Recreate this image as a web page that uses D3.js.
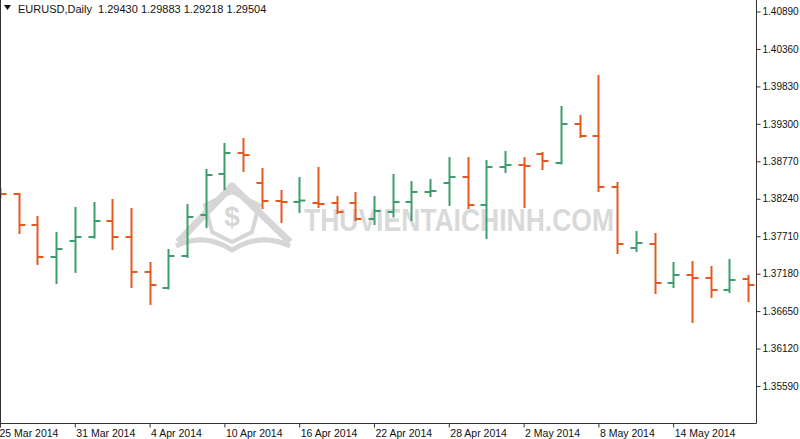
<!DOCTYPE html>
<html><head><meta charset="utf-8">
<script src="https://cdn.jsdelivr.net/npm/d3@7"></script>
<style>
html,body{margin:0;padding:0;background:#fff;}
svg{display:block;font-family:"Liberation Sans",Arial,sans-serif;}
</style></head>
<body>
<svg id="chart" width="800" height="439"></svg>
<script>
const dates = ["2014-03-25","2014-03-26","2014-03-27","2014-03-28","2014-03-31",
"2014-04-01","2014-04-02","2014-04-03","2014-04-04","2014-04-07","2014-04-08","2014-04-09","2014-04-10","2014-04-11",
"2014-04-14","2014-04-15","2014-04-16","2014-04-17","2014-04-18","2014-04-21","2014-04-22","2014-04-23","2014-04-24","2014-04-25",
"2014-04-28","2014-04-29","2014-04-30","2014-05-01","2014-05-02","2014-05-05","2014-05-06","2014-05-07","2014-05-08","2014-05-09",
"2014-05-12","2014-05-13","2014-05-14","2014-05-15","2014-05-16","2014-05-19","2014-05-20"];
const open  = [1.38330,1.38307,1.37869,1.37416,1.37642,1.37699,1.37925,1.37699,1.37204,1.36977,1.37430,1.38010,1.38590,1.38888,
1.38463,1.38208,1.38194,1.38180,1.38180,1.38180,1.37954,1.38053,1.38194,1.38336,1.38463,1.38548,1.38152,1.38689,1.38718,
1.38873,1.38746,1.39298,1.39128,1.38406,1.37543,1.37600,1.37048,1.37161,1.37119,1.36949,1.37104];
const high  = [1.38380,1.38310,1.37982,1.37755,1.38109,1.38180,1.38222,1.38095,1.37331,1.37515,1.38152,1.38647,1.39015,1.39086,
1.38661,1.38350,1.38534,1.38675,1.38265,1.38322,1.38265,1.38576,1.38477,1.38505,1.38817,1.38817,1.38774,1.38902,1.38817,
1.38888,1.39539,1.39411,1.39977,1.38463,1.37770,1.37741,1.37331,1.37345,1.37274,1.37373,1.37147];
const low   = [1.38260,1.37755,1.37317,1.37048,1.37204,1.37690,1.37529,1.36991,1.36751,1.36970,1.37416,1.37840,1.38378,1.38633,
1.38109,1.37911,1.38053,1.38123,1.38038,1.37939,1.37883,1.37990,1.37939,1.38279,1.38152,1.38109,1.37685,1.38619,1.38123,
1.38661,1.38740,1.39114,1.38350,1.37472,1.37501,1.36906,1.36991,1.36496,1.36850,1.36920,1.36793];
const close = [1.38307,1.37869,1.37416,1.37529,1.37699,1.37925,1.37699,1.37204,1.37020,1.37430,1.37982,1.38576,1.38888,1.38859,
1.38208,1.38194,1.38215,1.38166,1.38053,1.37954,1.38067,1.38194,1.38336,1.38350,1.38548,1.38152,1.38689,1.38718,1.38704,
1.38774,1.39298,1.39128,1.38406,1.37600,1.37614,1.37048,1.37161,1.37119,1.36949,1.37090,1.37020];
const yTicks = [1.40890,1.40360,1.39830,1.39300,1.38770,1.38240,1.37710,1.37180,1.36650,1.36120,1.35590];
const xTickDates = ["2014-03-25","2014-03-31","2014-04-04","2014-04-10","2014-04-16","2014-04-22","2014-04-28","2014-05-02","2014-05-08","2014-05-14"];
const header = "EURUSD,Daily  1.29430 1.29883 1.29218 1.29504";
const watermark = "THUVIENTAICHINH.COM";

const UP = "#3c9c6c", DOWN = "#e4581f";
const svg = d3.select("#chart");
const plotRight = 756, plotBottom = 423;

const x = d3.scalePoint().domain(dates).range([0, 748]);
const y = d3.scaleLinear().domain([1.350663, 1.410528]).range([plotBottom, 0]);

// watermark
const wm = svg.append("g").attr("fill","none").attr("stroke","#d6d6d6");
wm.append("path").attr("stroke-width",7).attr("stroke-linejoin","round")
  .attr("d","M178,242 L232,186 L290,242");
wm.append("path").attr("stroke-width",5)
  .attr("d","M176,246 Q205,232 232,250 Q260,232 290,246");
wm.append("path").attr("stroke-width",4)
  .attr("d","M205,205 L232,192 L259,205 L252,232 L232,242 L212,232 Z");
svg.append("text").attr("x",232).attr("y",226).attr("text-anchor","middle")
  .attr("font-size",28).attr("font-weight","bold").attr("fill","#d6d6d6").text("$");
svg.append("text").attr("x",304).attr("y",231)
  .attr("font-size",31).attr("font-weight","bold").attr("fill","#d9d9d9")
  .attr("textLength",310).attr("lengthAdjust","spacingAndGlyphs").text(watermark);

// bars
const idx = d3.range(dates.length);
const bars = svg.append("g");
idx.forEach(i => {
  const cx = Math.round(x(dates[i])) + 0.5;
  const col = close[i] >= open[i] ? UP : DOWN;
  const g = bars.append("g").attr("stroke", col).attr("stroke-width", 2);
  g.append("line").attr("x1",cx).attr("x2",cx).attr("y1",y(high[i])-1).attr("y2",y(low[i])+1);
  g.append("line").attr("x1",cx-6).attr("x2",cx).attr("y1",y(open[i])).attr("y2",y(open[i]));
  g.append("line").attr("x1",cx).attr("x2",cx+6).attr("y1",y(close[i])).attr("y2",y(close[i]));
});

// frame
svg.append("line").attr("x1",0.5).attr("x2",0.5).attr("y1",0).attr("y2",plotBottom+0.5).attr("stroke","#333");
svg.append("line").attr("x1",0).attr("x2",plotRight+0.5).attr("y1",plotBottom+0.5).attr("y2",plotBottom+0.5).attr("stroke","#333");
svg.append("line").attr("x1",plotRight+0.5).attr("x2",plotRight+0.5).attr("y1",0).attr("y2",plotBottom+0.5).attr("stroke","#333");

// right axis
const ya = svg.append("g").attr("transform",`translate(${plotRight+0.5},0)`)
  .call(d3.axisRight(y).tickValues(yTicks).tickFormat(d3.format(".5f")).tickSize(4).tickPadding(2));
ya.select(".domain").remove();
ya.selectAll("line").attr("stroke","#333");
ya.selectAll("text").attr("font-size",10).attr("fill","#111").attr("font-family","Liberation Sans, Arial, sans-serif");

// bottom axis
const fmt = d3.timeFormat("%-d %b %Y"), parse = d3.timeParse("%Y-%m-%d");
const xa = svg.append("g").attr("transform",`translate(0,${plotBottom+0.5})`)
  .call(d3.axisBottom(x).tickValues(xTickDates).tickFormat(d => fmt(parse(d))).tickSize(4).tickPadding(2));
xa.select(".domain").remove();
xa.selectAll("line").attr("stroke","#333");
xa.selectAll("text").attr("font-size",10.5).attr("fill","#111").attr("text-anchor","start")
  .attr("dx", 1).attr("font-family","Liberation Sans, Arial, sans-serif");
xa.selectAll(".tick").filter((d,i)=>i===0).select("text").attr("dx",-1);

// header
svg.append("path").attr("d","M4,5 L11,5 L7.5,10 Z").attr("fill","#111");
svg.append("text").attr("x",18).attr("y",13).attr("font-size",11).attr("fill","#111")
  .attr("xml:space","preserve").style("white-space","pre").text(header);
</script>
</body></html>
